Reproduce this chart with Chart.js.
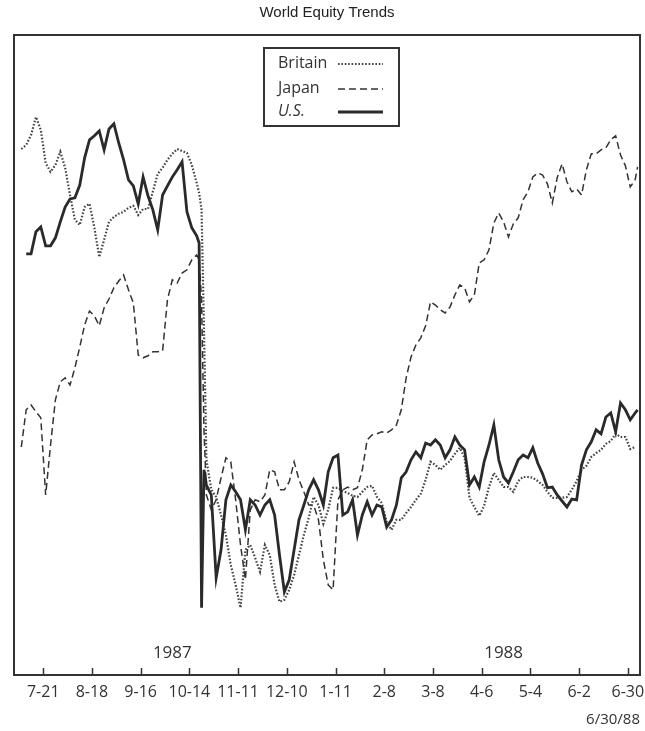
<!DOCTYPE html>
<html>
<head>
<meta charset="utf-8">
<title>World Equity Trends</title>
<script src="https://cdn.jsdelivr.net/npm/chart.js@4.4.0/dist/chart.umd.min.js"></script>
<style>
  html, body { margin: 0; padding: 0; background: #fff; }
</style>
</head>
<body>
<canvas id="chart" width="645" height="731"></canvas>
<script>
// trading days counted from 7/7/87 (tick marks every 20 trading days)
const days = [
  3, 5, 7, 9, 11, 13, 15, 17, 19, 21,
  23, 25, 27, 29, 31, 33, 35, 37, 39, 41,
  43, 45, 47, 49, 51, 53, 55, 57, 59, 61,
  63, 65, 67, 69, 71, 73, 75, 76, 77, 78,
  79, 81, 83, 85, 87, 89, 91, 93, 95, 97,
  99, 101, 103, 105, 107, 109, 111, 113, 115, 117,
  119, 121, 123, 125, 127, 129, 131, 133, 135, 137,
  139, 141, 143, 145, 147, 149, 151, 153, 155, 157,
  159, 161, 163, 165, 167, 169, 171, 173, 175, 177,
  179, 181, 183, 185, 187, 189, 191, 193, 195, 197,
  199, 201, 203, 205, 207, 209, 211, 213, 215, 217,
  219, 221, 223, 225, 227, 229, 231, 233, 235, 237,
  239, 241, 243, 245, 247, 249, 251, 253, 255, 256
];

// relative index levels (no scale printed on the original)
const britain = [
  131.5, 132.5, 135, 139.5, 136.3, 128, 125.8, 127.5, 130.8, 126.8,
  120, 113.8, 112.5, 117, 117.8, 111.8, 104.5, 108.8, 113.3, 114.5,
  115.3, 115.8, 116.8, 117.3, 115, 116.5, 116.5, 120.8, 125.3, 126.8,
  128.8, 130.3, 131.5, 131, 130.5, 127.5, 123, 120.5, 116.3, 86.3,
  53.8, 46.3, 44.5, 40, 35, 27.5, 22.5, 16.8, 31.3, 32.5,
  29.3, 25.8, 32.5, 30, 22.5, 18.3, 18.8, 21.3, 25, 30,
  35, 39.3, 44.5, 42.5, 37.8, 41.3, 46.8, 46.8, 46, 45.5,
  44.8, 44.5, 45.8, 47, 47.3, 44.5, 43, 38.3, 36.3, 38.8,
  38.8, 40.5, 42, 43.8, 45.3, 48.8, 53.3, 52.5, 51.3, 52.5,
  53.5, 55.3, 56.8, 54.3, 44.3, 42, 39.8, 42.3, 47, 50.5,
  48.8, 47, 47, 45.8, 48.5, 49.5, 49.5, 49.3, 48.5, 47.5,
  45.8, 44.3, 44.3, 44.3, 44.5, 46.3, 48.5, 51.3, 52.3, 54.5,
  55.5, 56.3, 57.8, 58.5, 60.3, 59.5, 59.5, 56.5, 57, null
];

const japan = [
  57, 66.3, 67.5, 65.8, 64.3, 45, 57.5, 68.8, 73.3, 74.3,
  72.5, 76.8, 82, 87.5, 91, 89.8, 87.3, 91.8, 94, 96.8,
  98.5, 100, 96.3, 93, 80, 79.3, 79.8, 80.8, 80.8, 81,
  93.8, 98.8, 98, 100.5, 101.3, 103.8, 105, 103.8, 93.8, 61.3,
  45, 41.3, 43.8, 49.3, 54.3, 53.3, 43.8, 32.5, 23.8, 41.3,
  43.8, 43.3, 45, 51.3, 50.8, 46.3, 46.3, 48.3, 53.3, 48.8,
  45.8, 42.5, 42.5, 38.8, 28.8, 22.5, 21.3, 43.8, 46.3, 47,
  46.3, 46.8, 51.3, 58.8, 60, 60.3, 60.8, 60.5, 61.3, 62.5,
  66.3, 74.3, 79.5, 82.5, 84.3, 87.3, 93.3, 92.5, 91.3, 90.5,
  92, 95, 97.5, 96.8, 93.3, 95, 103, 103.8, 106.3, 113,
  115.5, 113.3, 109.5, 112.8, 114.3, 118.8, 120.8, 124.5, 125.5, 125,
  122.8, 118, 124.3, 127.8, 123.3, 120.8, 121.5, 120, 126.3, 130.3,
  130.3, 131.3, 131.8, 133.8, 134.8, 130, 127.3, 122, 123.8, 127
];

const us = [
  null, 105.3, 105.3, 110.8, 112, 107.3, 107.3, 109.3, 113.3, 117,
  119, 119.3, 122.5, 129.3, 133.8, 134.8, 136, 131.3, 136.5, 137.8,
  133, 128.8, 123.8, 122.3, 117.8, 124.5, 119.8, 116.3, 111.3, 120,
  122.3, 124.5, 126.3, 128.3, 115.8, 111.8, 109.8, 108, 16.8, 51.3,
  47.5, 45, 24.3, 31.3, 43.8, 47.5, 45.8, 43.8, 36.3, 43.8,
  42.5, 40, 42.5, 43.8, 40, 30, 20.8, 23.8, 31.3, 38.8,
  42.5, 46.3, 48.8, 46.3, 42.5, 50.8, 54.3, 55, 40, 40.8,
  43.8, 35, 40, 43.3, 40, 42.5, 42, 37, 38.8, 42.5,
  49.3, 50.8, 53.8, 55.8, 54.3, 58, 57.5, 58.8, 57.5, 54.3,
  56.3, 59.5, 57.5, 56.3, 47.5, 49.5, 47, 53.3, 57.5, 62.5,
  53.8, 49.5, 48, 50.8, 53.8, 55, 54.3, 56.8, 53, 50.3,
  46.8, 47, 45, 43.5, 42, 44, 43.8, 52.5, 56.3, 58.3,
  61.3, 60.3, 64.5, 65.5, 60.8, 68, 66.3, 63.8, 65.5, 66.3
];

const tickDays = [12, 32, 52, 72, 92, 112, 132, 152, 172, 192, 212, 232, 252];
const tickLabels = ['7-21', '8-18', '9-16', '10-14', '11-11', '12-10', '1-11',
                    '2-8', '3-8', '4-6', '5-4', '6-2', '6-30'];
const yearLabels = ['1987', '1988'];
const yearDays = [65, 201];

function toPoints(values) {
    return days.map((d, i) => ({ x: d, y: values[i] }));
}

// frame, inward tick marks, year labels and the boxed legend
const framePlugin = {
    id: 'framePlugin',
    afterDraw(chart) {
        const { ctx, chartArea: a, scales: { x, y } } = chart;
        ctx.save();

        ctx.strokeStyle = '#333';
        ctx.lineWidth = 2;
        ctx.strokeRect(a.left, a.top, a.right - a.left, a.bottom - a.top);

        ctx.lineWidth = 1.5;
        tickDays.forEach(d => {
            const px = Math.round(x.getPixelForValue(d)) + 0.5;
            ctx.beginPath();
            ctx.moveTo(px, a.bottom);
            ctx.lineTo(px, a.bottom - 7);
            ctx.stroke();
        });

        ctx.fillStyle = '#333';
        ctx.font = '17px "Open Sans"';
        ctx.textAlign = 'center';
        ctx.textBaseline = 'middle';
        yearLabels.forEach((t, i) => {
            ctx.fillText(t, x.getPixelForValue(yearDays[i]), y.getPixelForValue(5.5));
        });

        // legend box
        const bx = 264, by = 48, bw = 135, bh = 78;
        ctx.fillStyle = '#fff';
        ctx.fillRect(bx, by, bw, bh);
        ctx.lineWidth = 2;
        ctx.strokeStyle = '#333';
        ctx.strokeRect(bx, by, bw, bh);

        const rows = [63, 88, 111];
        chart.data.datasets.forEach((ds, i) => {
            ctx.fillStyle = '#333';
            ctx.textAlign = 'left';
            ctx.font = (ds.label === 'U.S.' ? 'italic ' : '') + '16px "Open Sans"';
            ctx.fillText(ds.label, 278, rows[i]);
            ctx.strokeStyle = ds.borderColor;
            ctx.lineWidth = ds.borderWidth;
            ctx.setLineDash(ds.borderDash || []);
            ctx.beginPath();
            ctx.moveTo(338, rows[i] + 1);
            ctx.lineTo(383, rows[i] + 1);
            ctx.stroke();
            ctx.setLineDash([]);
        });

        ctx.restore();
    }
};

new Chart(document.getElementById('chart'), {
    type: 'line',
    data: {
        datasets: [
            {
                label: 'Britain',
                data: toPoints(britain),
                borderColor: '#444',
                borderWidth: 2.2,
                borderDash: [1.6, 1.8],
                order: 1
            },
            {
                label: 'Japan',
                data: toPoints(japan),
                borderColor: '#333',
                borderWidth: 1.5,
                borderDash: [7, 4],
                order: 2
            },
            {
                label: 'U.S.',
                data: toPoints(us),
                borderColor: '#2a2a2a',
                borderWidth: 2.8,
                order: 0
            }
        ]
    },
    options: {
        responsive: false,
        animation: false,
        devicePixelRatio: 1,
        elements: {
            point: { radius: 0 },
            line: { tension: 0, fill: false }
        },
        layout: { padding: { left: 14, right: 5, top: 0, bottom: 0 } },
        plugins: {
            legend: { display: false },
            tooltip: { enabled: false },
            title: {
                display: true,
                text: 'World Equity Trends',
                color: '#222',
                font: { family: 'Liberation Sans', size: 15, weight: 'normal' },
                padding: { top: 4, bottom: 13 }
            }
        },
        scales: {
            x: {
                type: 'linear',
                min: 0,
                max: 257,
                afterBuildTicks: s => { s.ticks = tickDays.map(v => ({ value: v })); },
                afterFit: s => { s.height = 56; s.paddingLeft = 0; s.paddingRight = 0; },
                grid: { display: false, drawTicks: false },
                border: { display: false },
                ticks: {
                    callback: v => tickLabels[tickDays.indexOf(v)],
                    autoSkip: false,
                    maxRotation: 0,
                    minRotation: 0,
                    color: '#333',
                    padding: 8,
                    font: { family: 'Open Sans', size: 16 }
                },
                title: {
                    display: true,
                    text: '6/30/88',
                    align: 'end',
                    color: '#333',
                    font: { family: 'Open Sans', size: 15 },
                    padding: { top: 0, bottom: 2 }
                }
            },
            y: {
                display: false,
                min: 0,
                max: 160
            }
        }
    },
    plugins: [framePlugin]
});
</script>
</body>
</html>
